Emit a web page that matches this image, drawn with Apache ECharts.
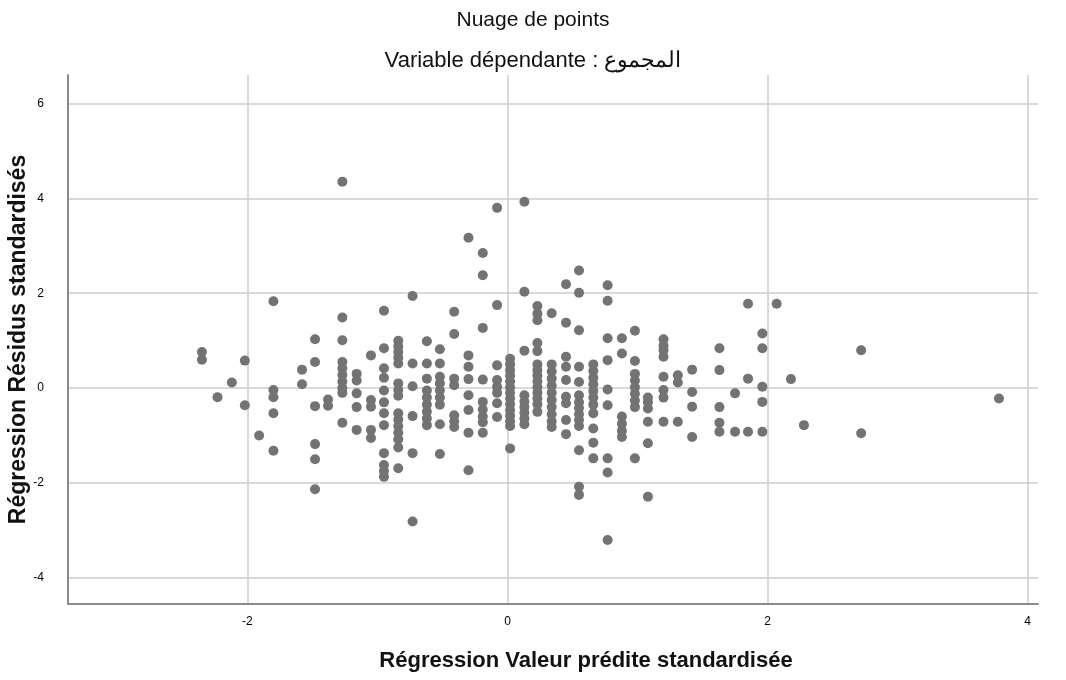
<!DOCTYPE html>
<html>
<head>
<meta charset="utf-8">
<script src="https://cdn.jsdelivr.net/npm/echarts@6/dist/echarts.min.js"></script>
<style>html,body{margin:0;padding:0;background:#fff}#c{width:1066px;height:680px}</style>
</head>
<body>
<div id="c"></div>
<script>
// Predicted standardized values (columns) and standardized residuals per column
const predictedColumns = [-2.35,-2.23,-2.12,-2.02,-1.91,-1.80,-1.58,-1.48,-1.38,-1.27,-1.16,-1.05,-0.95,-0.84,-0.73,-0.62,-0.52,-0.41,-0.30,-0.19,-0.08,0.02,0.13,0.23,0.34,0.45,0.55,0.66,0.77,0.88,0.98,1.08,1.20,1.31,1.42,1.63,1.75,1.85,1.96,2.07,2.18,2.28,2.72,3.78];
const residualsByColumn = [
  [0.76,0.6],
  [-0.19],
  [0.12],
  [0.58,-0.36],
  [-1.0],
  [1.83,-0.04,-0.19,-0.53,-1.32],
  [0.39,0.08],
  [1.03,0.55,-0.38,-1.18,-1.5,-2.13],
  [-0.24,-0.37],
  [4.35,1.49,1.01,0.55,0.42,0.28,0.14,0.0,-0.1,-0.73],
  [0.3,0.16,-0.11,-0.4,-0.88],
  [0.69,-0.25,-0.39,-0.88,-1.05],
  [1.63,0.84,0.42,0.22,-0.05,-0.3,-0.53,-0.78,-1.37,-1.62,-1.75,-1.87],
  [1.0,0.88,0.76,0.64,0.52,0.1,-0.04,-0.16,-0.53,-0.66,-0.8,-0.94,-1.08,-1.25,-1.69],
  [1.94,0.52,0.04,-0.59,-1.37,-2.81],
  [0.99,0.52,0.2,-0.05,-0.2,-0.35,-0.5,-0.64,-0.78],
  [0.82,0.52,0.24,0.1,-0.05,-0.2,-0.35,-0.76,-1.39],
  [1.61,1.14,0.2,0.06,-0.57,-0.7,-0.82],
  [3.17,0.69,0.45,0.19,-0.15,-0.46,-0.94,-1.73],
  [2.85,2.38,1.27,0.18,-0.29,-0.45,-0.6,-0.72,-0.94],
  [3.8,1.75,0.48,0.17,0.03,-0.1,-0.32,-0.61],
  [0.62,0.5,0.38,0.26,0.14,0.02,-0.1,-0.22,-0.34,-0.46,-0.58,-0.7,-0.8,-1.27],
  [3.93,2.03,0.79,-0.15,-0.28,-0.4,-0.52,-0.64,-0.76],
  [1.73,1.57,1.43,0.95,0.78,0.5,0.38,0.26,0.14,0.02,-0.1,-0.22,-0.34,-0.5],
  [1.58,0.5,0.35,0.2,0.05,-0.1,-0.25,-0.4,-0.55,-0.7,-0.82],
  [2.19,1.38,0.66,0.45,0.17,-0.18,-0.32,-0.67,-0.97],
  [2.48,2.01,1.22,0.45,0.13,-0.15,-0.3,-0.42,-0.55,-0.67,-0.8,-1.31,-2.08,-2.25],
  [0.5,0.36,0.22,0.08,-0.06,-0.2,-0.35,-0.53,-0.85,-1.15,-1.48],
  [2.17,1.84,1.05,0.59,-0.03,-0.36,-1.48,-1.78,-3.2],
  [1.05,0.73,-0.6,-0.75,-0.9,-1.03],
  [1.21,0.57,0.3,0.16,0.02,-0.12,-0.26,-0.4,-1.48],
  [-0.2,-0.3,-0.43,-0.71,-1.16,-2.29],
  [1.03,0.9,0.8,0.66,0.24,-0.04,-0.2,-0.71],
  [0.27,0.12,-0.71],
  [0.39,-0.08,-0.39,-1.03],
  [0.84,0.38,-0.4,-0.73,-0.92],
  [-0.11,-0.92],
  [1.78,0.2,-0.92],
  [1.15,0.84,0.03,-0.29,-0.92],
  [1.78],
  [0.19],
  [-0.78],
  [0.8,-0.95],
  [-0.22]
];
const xTicks = [-2, 0, 2, 4];
const yTicks = [-4, -2, 0, 2, 4, 6];
const titleText = 'Nuage de points';
const subtitleText = 'Variable dépendante : المجموع';
const xTitle = 'Régression Valeur prédite standardisée';
const yTitle = 'Régression Résidus standardisés';

const points = [];
predictedColumns.forEach((x, i) => residualsByColumn[i].forEach(y => points.push([x, y])));

const FONT = '"Liberation Sans", Arial, sans-serif';
const chart = echarts.init(document.getElementById('c'), null, {renderer: 'canvas'});
chart.setOption({
  animation: false,
  backgroundColor: '#ffffff',
  title: [
    {text: titleText, left: 'center', top: 5, textStyle: {fontFamily: FONT, fontSize: 21, fontWeight: 'normal', color: '#111'}},
    {text: subtitleText, left: 'center', top: 45, textStyle: {fontFamily: FONT, fontSize: 22, fontWeight: 'normal', color: '#111'}}
  ],
  grid: {left: 68, right: 28, top: 75, bottom: 76, containLabel: false, outerBoundsMode: 'none'},
  xAxis: {
    type: 'value', min: -3.38, max: 4.08,
    name: xTitle, nameLocation: 'middle', nameGap: 46, nameMoveOverlap: false,
    nameTextStyle: {fontFamily: FONT, fontSize: 22, fontWeight: 'bold', color: '#111', padding: [0, 0, 0, 66]},
    axisLine: {show: true, onZero: false, lineStyle: {color: '#8c8c8c', width: 2}},
    axisTick: {show: false, customValues: xTicks},
    axisLabel: {customValues: xTicks, fontFamily: FONT, fontSize: 12, color: '#000', margin: 12},
    splitLine: {show: true, lineStyle: {color: '#cccccc', width: 1.5}}
  },
  yAxis: {
    type: 'value', min: -4.55, max: 6.6,
    name: yTitle, nameLocation: 'middle', nameGap: 38, nameRotate: 90, nameMoveOverlap: false,
    nameTextStyle: {fontFamily: FONT, fontSize: 23, fontWeight: 'bold', color: '#111'},
    axisLine: {show: true, onZero: false, lineStyle: {color: '#8c8c8c', width: 2}},
    axisTick: {show: false, customValues: yTicks},
    axisLabel: {customValues: yTicks, fontFamily: FONT, fontSize: 12, color: '#000', margin: 24},
    splitLine: {show: true, lineStyle: {color: '#cccccc', width: 1.5}}
  },
  series: [{
    type: 'scatter',
    data: points,
    symbol: 'circle',
    symbolSize: 10,
    itemStyle: {color: '#737373', opacity: 1}
  }]
});
</script>
</body>
</html>
